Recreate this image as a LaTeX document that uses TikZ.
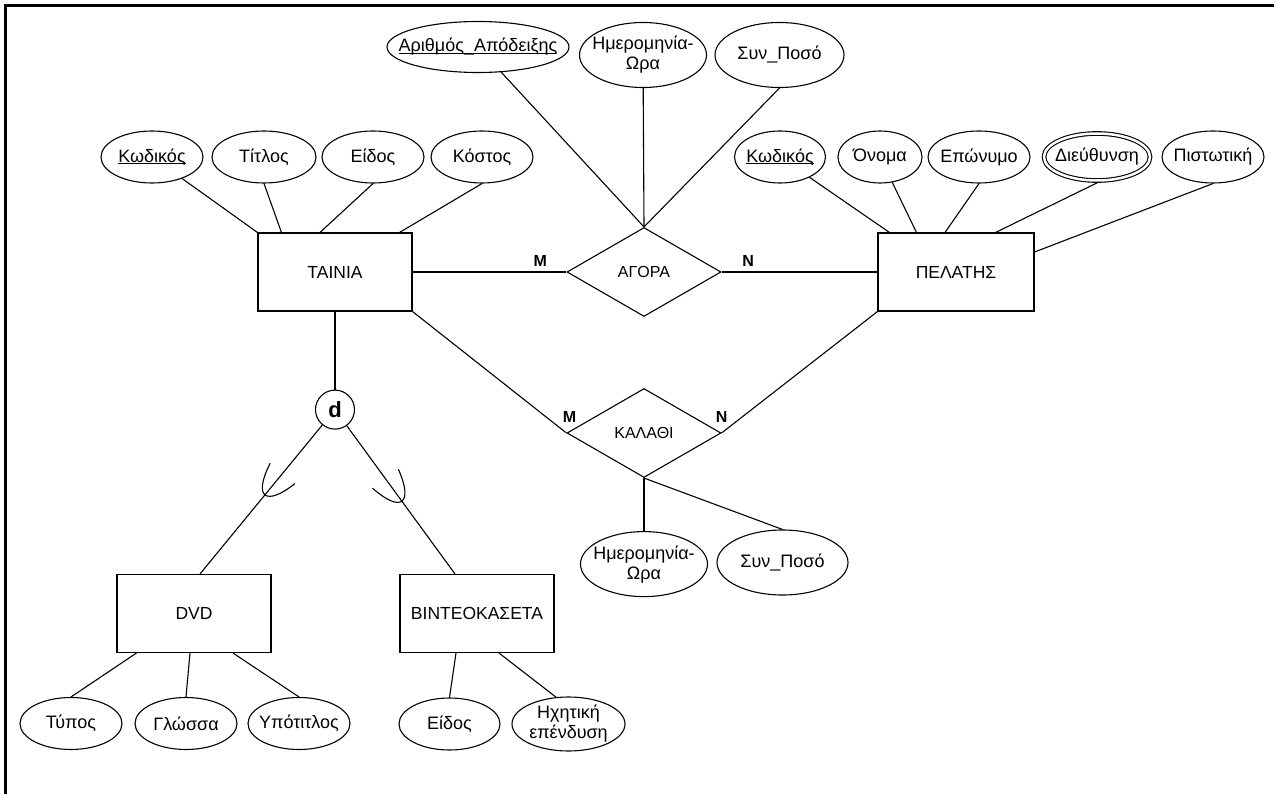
\documentclass[tikz,border=0pt]{standalone}
\usepackage{fontspec}
\setmainfont{Liberation Sans}
\usetikzlibrary{positioning,shapes.geometric,decorations.markings}

\newlength{\keywd}
\newcommand{\keyattr}[1]{\settowidth{\keywd}{#1}\rlap{\rule[-2pt]{\keywd}{1pt}}#1}

\begin{document}
\begin{tikzpicture}[
  x=1pt, y=-1pt,
  line width=1.1pt,
  font=\fontsize{18}{20}\selectfont,
  ent/.style={draw, minimum width=154, minimum height=78, font=\fontsize{17.5}{20}\selectfont},
  rel/.style={draw, diamond, aspect=1.75, minimum width=154, minimum height=89,
              inner sep=0pt, font=\fontsize{16}{18}\selectfont},
  attr/.style={draw, ellipse, inner xsep=-10pt, inner ysep=0pt,
               minimum width=102, minimum height=52, align=center},
  multi/.style={attr, double, double distance=2.5pt, outer sep=2.4pt},
  card/.style={font=\bfseries\fontsize{16}{18}\selectfont, inner sep=2pt},
  subsetcup/.style={postaction={decorate, decoration={markings,
      mark=at position #1 with {\draw (-28pt,-16pt) .. controls (9pt,-8pt) and (9pt,8pt) .. (-28pt,16pt);}}}}
]
\useasboundingbox (0,0) rectangle (1274,794);
\draw[line width=2.5pt] (5.5,794) -- (5.5,5.5) -- (1274,5.5);

% entities and relationships
\node[ent] (tainia) at (335,272) {ΤΑΙΝΙΑ};
\node[ent, minimum width=156] (pelatis) at (956,272) {ΠΕΛΑΤΗΣ};
\node[ent] (dvd) at (194,613.5) {DVD};
\node[ent] (bint) at (477,613.5) {ΒΙΝΤΕΟΚΑΣΕΤΑ};
\node[rel] (agora) at (644,272) {ΑΓΟΡΑ};
\node[rel] (kalathi) at (644,433) {ΚΑΛΑΘΙ};
\node[draw, circle, minimum size=39, inner sep=0pt,
      font=\bfseries\fontsize{22}{24}\selectfont, below=78pt of tainia] (disj) {d};

% attributes
\node[attr] (kod1) at (152,157) {\keyattr{Κωδικός}};
\node[attr, minimum width=104] (titlos) at (264,157) {Τίτλος};
\node[attr] (eidos1) at (373,157) {Είδος};
\node[attr] (kostos) at (482,157) {Κόστος};

\node[attr, inner xsep=-18pt, minimum width=182, minimum height=51] (arith) at (478,47) {\keyattr{Αριθμός\_Απόδειξης}};
\node[attr, minimum width=127, minimum height=65] (hm1) at (643,55) {Ημερομηνία-\\Ωρα};
\node[attr, minimum width=129, minimum height=65] (poso1) at (779.5,55) {Συν\_Ποσό};

\node[attr, minimum width=91] (kod2) at (780,157) {\keyattr{Κωδικός}};
\node[attr, minimum width=84] (onoma) at (880,157) {Όνομα};
\node[attr] (eponymo) at (979,157) {Επώνυμο};
\node[multi, minimum width=106, minimum height=47] (dieuth) at (1097,157) {Διεύθυνση};
\node[attr] (pistotiki) at (1213,157) {Πιστωτική};

\node[attr, minimum width=127, minimum height=65, below=53pt of kalathi] (hm2) {Ημερομηνία-\\Ωρα};
\node[attr, minimum width=131, minimum height=65] (poso2) at (782.5,562.5) {Συν\_Ποσό};

\node[attr] (typos) at (71,723.5) {Τύπος};
\node[attr] (glossa) at (186,723.5) {Γλώσσα};
\node[attr] (ypotitlos) at (299,723.5) {Υπότιτλος};
\node[attr, minimum width=101] (eidos2) at (449.5,724) {Είδος};
\node[attr, minimum width=113, minimum height=54] (hxitiki) at (568.5,724) {Ηχητική\\επένδυση};

% connectors
\draw (kod1) -- (tainia.north west);
\draw (titlos.south) -- ([xshift=24pt]tainia.north west);
\draw (eidos1.south) -- ([xshift=-15pt]tainia.north);
\draw (kostos.south) -- ([xshift=-13pt]tainia.north east);

\draw (arith) -- (agora.north);
\draw (hm1) -- (agora.north);
\draw (poso1.south) -- (agora.north);
\draw (tainia) -- node[card, pos=.83, above=3pt] {M} (agora);
\draw (agora) -- node[card, pos=.17, above=3pt] {N} (pelatis);

\draw (kod2) -- ([xshift=12pt]pelatis.north west);
\draw (onoma) -- ([xshift=39pt]pelatis.north west);
\draw (eponymo.south) -- ([xshift=-11pt]pelatis.north);
\draw (dieuth.south) -- ([xshift=-39pt]pelatis.north east);
\draw (pistotiki.south) -- ([yshift=20pt]pelatis.east);

\draw (tainia.south east) -- node[card, pos=1, above=8pt, xshift=3pt] {M} (kalathi.west);
\draw (pelatis.south west) -- node[card, pos=1, above=8pt] {N} (kalathi.east);
\draw (kalathi.south) -- (hm2);
\draw (kalathi.south) -- (poso2.north);

\draw (tainia) -- (disj);
\draw[subsetcup=.47] (disj) -- ([xshift=6pt]dvd.north);
\draw[subsetcup=.51] (disj) -- ([xshift=-22pt]bint.north);

\draw (typos.north) -- ([xshift=20pt]dvd.south west);
\draw (glossa.north) -- ([xshift=-4pt]dvd.south);
\draw (ypotitlos.north) -- ([xshift=39pt]dvd.south);
\draw (eidos2.north) -- ([xshift=-21pt]bint.south);
\draw (hxitiki.115) -- ([xshift=22pt]bint.south);
\end{tikzpicture}
\end{document}
